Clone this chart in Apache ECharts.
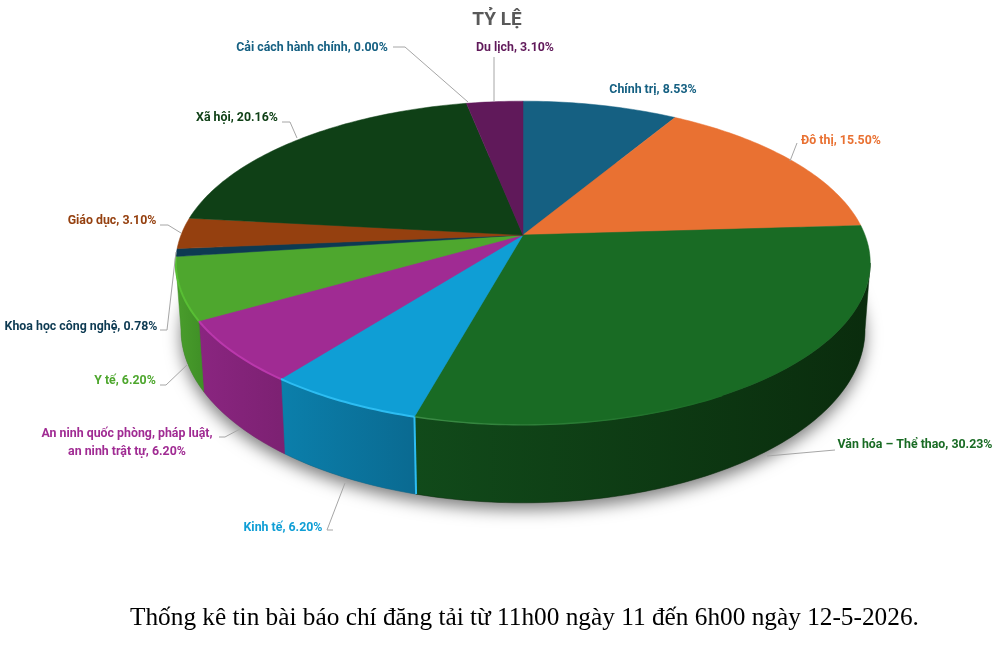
<!DOCTYPE html>
<html>
<head>
<meta charset="utf-8">
<style>html,body{margin:0;padding:0;background:#fff}#c{width:1000px;height:647px}</style>
<script src="https://cdn.jsdelivr.net/npm/echarts@6/dist/echarts.min.js"></script>
</head>
<body>
<div id="c"></div>
<script>
var categories = ['Chính trị','Đô thị','Văn hóa – Thể thao','Kinh tế','An ninh quốc phòng, pháp luật,\nan ninh trật tự','Y tế','Khoa học công nghệ','Giáo dục','Xã hội','Cải cách hành chính','Du lịch'];
var values = [8.53,15.50,30.23,6.20,6.20,6.20,0.78,3.10,20.16,0.00,3.10];
var titleText = 'TỶ LỆ';
var captionText = 'Thống kê tin bài báo chí đăng tải từ 11h00 ngày 11 đến 6h00 ngày 12-5-2026.';

// Colours per slice
var colors = ['#156082','#E97132','#196B24','#0F9ED5','#A02B93','#4EA72E','#0D3A52','#95400F','#0F4016','#156082','#60195A'];
var wallLeft = [null,null,'#114A1A','#0B7FAB','#8A2580','#4A9E2C',null,null,null,null,null];
var wallRight = [null,null,'#0A2C0D','#0A6A91','#7C2172','#3F8F26',null,null,null,null,null];
var rimColors = [null,null,'#3C8C46','#2DBDF2','#BA38AC','#58BE34',null,null,null,null,null];
var labelColors = ['#156082','#E97132','#196B24','#0F9ED5','#A02B93','#4EA72E','#0D3A52','#95400F','#0F4016','#156082','#60195A'];

// Label anchors (text centre) and leader lines, page pixels, per slice
var labelCenters = [[653,90],[841,141],[915,445],[283,528],[127,443],[125,381],[81,327],[112,221],[237,118],[312,48],[515,48]];
var leaders = [
  null,
  [[797,143],[790,161]],
  [[835,450],[767,456]],
  [[333,530],[327,530],[345,483]],
  [[219,437],[225,437],[240,429]],
  [[160,385],[166,385],[188,364]],
  [[160,330],[167,330],[176,252]],
  [[160,225],[168,225],[181,233]],
  [[282,122],[290,122],[297,138]],
  [[393,47],[405,47],[468,102]],
  [[494,57],[494,101]]
];

// Perspective disk projection
var CX = 523, CY = 235, R = 342, K = 157, P = 0.173, H = 64.5, SHRINK = 0.985;
function topPt(deg){
  var a = deg*Math.PI/180, X = Math.sin(a), Y = Math.cos(a), s = 1/(1+P*Y);
  return [CX + R*X*s, CY - K*Y*s];
}
function botPt(deg){
  var a = deg*Math.PI/180, X = Math.sin(a), Y = Math.cos(a), s = 1/(1+P*Y);
  return [CX + R*X*s*SHRINK, CY - K*Y*s + H*s];
}
function arc(fn, a, b){
  var pts = [], n = Math.max(2, Math.ceil(Math.abs(b-a)));
  for (var i=0;i<=n;i++) pts.push(fn(a+(b-a)*i/n));
  return pts;
}
var total = values.reduce(function(s,v){return s+v;},0);
var starts = [], ends = [], acc = 0;
values.forEach(function(v){ starts.push(acc/total*360); acc += v; ends.push(acc/total*360); });
var tan = Math.acos(-P)*180/Math.PI;          // right silhouette tangent
var wallFrom = tan, wallTo = 360-tan;         // left silhouette tangent

var rows = values.map(function(v,i){ return [i, v]; });
var grad = function(l,r){ return new echarts.graphic.LinearGradient(0,0,1,0,[{offset:0,color:l},{offset:1,color:r}]); };

var chart = echarts.init(document.getElementById('c'), null, {renderer:'canvas'});
chart.setOption({
  animation:false,
  backgroundColor:'#fff',
  title:{text:titleText,left:492,top:6,textAlign:'center',textStyle:{fontFamily:'Roboto',fontWeight:'bold',fontSize:19,color:'#595959'}},
  series:[
    {type:'custom',coordinateSystem:'none',silent:true,z:1,data:[[0]],
     renderItem:function(){
       return {type:'polygon',shape:{points:arc(botPt,0,360)},
         style:{fill:'#777',shadowBlur:16,shadowColor:'rgba(0,0,0,0.5)',shadowOffsetY:7}};
     }},
    {type:'custom',coordinateSystem:'none',silent:true,z:2,data:rows,
     renderItem:function(p,api){
       var i = api.value(0), a = Math.max(starts[i],wallFrom), b = Math.min(ends[i],wallTo);
       if (b<=a || !wallLeft[i]) return null;
       var pts = arc(topPt,a,b).concat(arc(botPt,a,b).reverse());
       var kids = [{type:'polygon',shape:{points:pts},style:{fill:grad(wallLeft[i],wallRight[i]),stroke:wallRight[i],lineWidth:0.5}}];
       return {type:'group',children:kids};
     }},
    {type:'custom',coordinateSystem:'none',silent:true,z:3,data:rows,
     renderItem:function(p,api){
       var i = api.value(0);
       if (ends[i]-starts[i]<=0) return null;
       var pts = [[CX,CY]].concat(arc(topPt,starts[i],ends[i]));
       return {type:'polygon',shape:{points:pts},style:{fill:colors[i],stroke:colors[i],lineWidth:0.5}};
     }},
    {type:'custom',coordinateSystem:'none',silent:true,z:4,data:rows,
     renderItem:function(p,api){
       var i = api.value(0), a = Math.max(starts[i],wallFrom), b = ends[i];
       if (b<=a || !rimColors[i]) return null;
       var isBig = (b-a)>60;
       var kids = [{type:'polyline',shape:{points:arc(topPt,isBig?b-45:a,b)},
         style:{fill:null,lineWidth:isBig?1.4:2,
           stroke:isBig?new echarts.graphic.LinearGradient(1,0,0,0,[{offset:0,color:colors[i]},{offset:1,color:rimColors[i]}]):rimColors[i]}}];
       if (i===3) {
         kids.push({type:'polyline',shape:{points:[topPt(a),botPt(a)]},style:{fill:null,stroke:rimColors[i],lineWidth:2}});
       }
       return {type:'group',children:kids};
     }},
    {type:'custom',coordinateSystem:'none',silent:true,z:5,data:rows,
     renderItem:function(p,api){
       var i = api.value(0), kids = [];
       if (leaders[i]) kids.push({type:'polyline',shape:{points:leaders[i]},style:{fill:null,stroke:'#A6A6A6',lineWidth:1}});
       kids.push({type:'text',x:labelCenters[i][0],y:labelCenters[i][1],scaleX:0.95,
         style:{text:categories[i]+', '+values[i].toFixed(2)+'%',align:'center',verticalAlign:'middle',
           fontFamily:'Roboto',fontWeight:'bold',fontSize:13,lineHeight:18,fill:labelColors[i]}});
       return {type:'group',children:kids};
     }}
  ],
  graphic:[{type:'text',left:130,top:606,silent:true,
    style:{text:captionText,fontFamily:'"Liberation Serif"',fontSize:25.3,fill:'#000'}}]
});
</script>
</body>
</html>
